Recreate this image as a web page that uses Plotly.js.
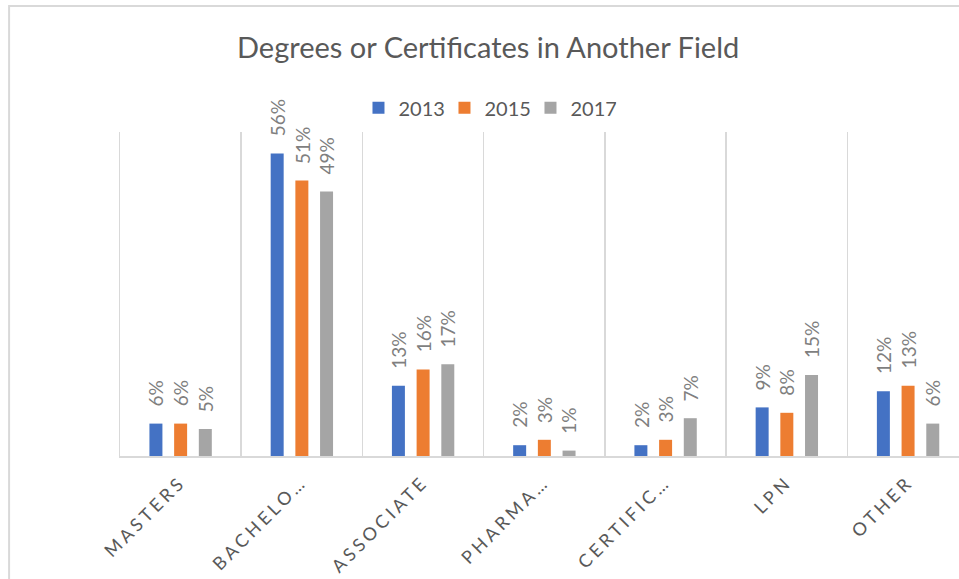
<!DOCTYPE html>
<html>
<head>
<meta charset="utf-8">
<script src="https://cdn.plot.ly/plotly-3.0.1.min.js"></script>
<style>
  html, body { margin: 0; padding: 0; background: #fff; overflow: hidden; }
  #chart { width: 959px; height: 579px; }
  .xtick text { letter-spacing: 3.6px; }
</style>
</head>
<body>
<div id="chart"></div>
<script>
const categories = ["MASTERS", "BACHELO…", "ASSOCIATE", "PHARMA…", "CERTIFIC…", "LPN", "OTHER"];
const years = ["2013", "2015", "2017"];
const values2013 = [6, 56, 13, 2, 2, 9, 12];
const values2015 = [6, 51, 16, 3, 3, 8, 13];
const values2017 = [5, 49, 17, 1, 7, 15, 6];
const colors = ["#4472C4", "#ED7D31", "#A5A5A5"];

const series = [values2013, values2015, values2017];
const traces = series.map((vals, i) => ({
  type: "bar",
  name: years[i],
  x: categories,
  y: vals,
  marker: { color: colors[i] },
  hoverinfo: "skip"
}));

const slot = 24.7;
const annotations = [];
series.forEach((vals, i) => {
  vals.forEach((v, j) => {
    annotations.push({
      x: categories[j], y: v, xref: "x", yref: "y",
      text: v + "%", showarrow: false, textangle: -90,
      xanchor: "center", yanchor: "bottom",
      xshift: (i - 1) * slot, yshift: 15,
      font: { family: "Lato", size: 19, color: "#7f7f7f" }
    });
  });
});

const layout = {
  width: 959, height: 579,
  margin: { l: 120, r: 0, t: 132, b: 123 },
  paper_bgcolor: "rgba(0,0,0,0)",
  plot_bgcolor: "rgba(0,0,0,0)",
  title: {
    text: "Degrees or Certificates in Another Field",
    font: { family: "Lato", size: 29, color: "#595959" },
    x: 0.509, xref: "container", xanchor: "center",
    y: 0.918, yref: "container", yanchor: "middle"
  },
  showlegend: true,
  legend: {
    orientation: "h", x: 0.438, xanchor: "center", y: 1.075, yanchor: "middle",
    font: { family: "Lato", size: 20, color: "#595959" },
    itemwidth: 30, traceorder: "normal",
    entrywidth: 41, entrywidthmode: "pixels"
  },
  barmode: "group",
  bargap: 0.389,
  bargroupgap: 0.474,
  xaxis: {
    type: "category",
    range: [-0.5, 6.42],
    tickson: "boundaries",
    showgrid: true, gridcolor: "#d9d9d9", gridwidth: 1.5,
    showline: true, linecolor: "#d9d9d9", linewidth: 1.5,
    ticks: "", tickangle: -45, ticklabelstandoff: 7,
    tickfont: { family: "Lato", size: 18, color: "#595959" },
    fixedrange: true
  },
  yaxis: {
    range: [0, 60],
    showgrid: false, zeroline: false, showticklabels: false,
    showline: true, linecolor: "#d9d9d9", linewidth: 1.5,
    fixedrange: true
  },
  annotations: annotations,
  shapes: [{
    type: "rect", xref: "paper", yref: "paper",
    x0: -0.1322, x1: 1.3, y0: -1, y1: 1.3889,
    line: { color: "#d9d9d9", width: 2 }, fillcolor: "rgba(0,0,0,0)",
    layer: "below"
  }]
};

Plotly.newPlot("chart", traces, layout, { staticPlot: true, displayModeBar: false });
</script>
</body>
</html>
